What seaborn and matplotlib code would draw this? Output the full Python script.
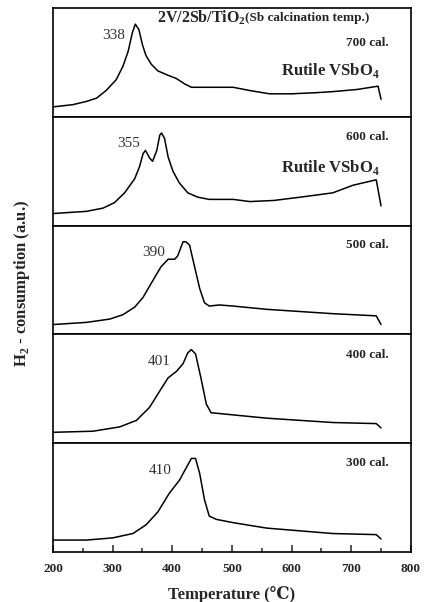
import matplotlib
matplotlib.use("Agg")
import matplotlib.pyplot as plt
from matplotlib.ticker import MultipleLocator
import seaborn as sns

### TPR traces (temperature in C, signal in a.u.)
temp_700 = [200, 233, 256, 273, 289, 306, 317, 326, 333, 338, 344, 350, 356, 365, 376, 393, 407, 421, 432, 457,
            502, 530, 563, 600, 640, 669, 710, 745, 750]
h2_700 = [0.09, 0.11, 0.14, 0.17, 0.24, 0.34, 0.46, 0.60, 0.77, 0.85, 0.80, 0.66, 0.56, 0.48, 0.42, 0.38, 0.35, 0.30, 0.27, 0.27,
          0.27, 0.24, 0.21, 0.21, 0.22, 0.23, 0.25, 0.28, 0.16]

temp_600 = [200, 256, 284, 303, 320, 337, 345, 351, 355, 362, 367, 374, 379, 382, 387, 393, 401, 412, 426, 443,
            462, 502, 530, 570, 614, 669, 703, 742, 750]
h2_600 = [0.11, 0.13, 0.16, 0.21, 0.30, 0.43, 0.54, 0.66, 0.69, 0.62, 0.59, 0.69, 0.83, 0.85, 0.80, 0.63, 0.50, 0.39, 0.30, 0.26,
          0.24, 0.24, 0.22, 0.23, 0.26, 0.30, 0.37, 0.42, 0.18]

temp_500 = [200, 256, 295, 317, 337, 351, 368, 381, 393, 404, 409, 418, 423, 429, 437, 446, 454, 462, 479, 502,
            558, 669, 742, 750]
h2_500 = [0.09, 0.11, 0.14, 0.18, 0.25, 0.34, 0.50, 0.62, 0.69, 0.69, 0.72, 0.85, 0.85, 0.82, 0.63, 0.42, 0.29, 0.26, 0.27, 0.26,
          0.23, 0.19, 0.17, 0.09]

temp_400 = [200, 267, 312, 340, 362, 379, 393, 407, 418, 426, 432, 439, 448, 457, 465, 502, 558, 669, 742, 750]
h2_400 = [0.10, 0.11, 0.15, 0.21, 0.33, 0.48, 0.60, 0.66, 0.73, 0.83, 0.86, 0.82, 0.60, 0.36, 0.28, 0.26, 0.23, 0.19, 0.18, 0.14]

temp_300 = [200, 256, 300, 334, 356, 376, 395, 412, 423, 432, 439, 446, 454, 462, 474, 502, 558, 669, 742, 750]
h2_300 = [0.11, 0.11, 0.13, 0.17, 0.25, 0.37, 0.54, 0.66, 0.77, 0.86, 0.86, 0.72, 0.48, 0.33, 0.30, 0.27, 0.22, 0.17, 0.16, 0.12]

cal_labels = ["700 cal.", "600 cal.", "500 cal.", "400 cal.", "300 cal."]
peak_labels = ["338", "355", "390", "401", "410"]
peak_label_x = [301, 326, 368, 378, 379]

sns.set_style("ticks")
plt.rcParams['font.family'] = ['Liberation Serif', 'DejaVu Serif']
plt.rcParams['mathtext.fontset'] = 'custom'
plt.rcParams['mathtext.rm'] = 'Liberation Serif'
plt.rcParams['mathtext.bf'] = 'Liberation Serif:bold'

traces = [(temp_700, h2_700), (temp_600, h2_600), (temp_500, h2_500),
          (temp_400, h2_400), (temp_300, h2_300)]
cal_y = [0.68, 0.81, 0.82, 0.81, 0.82]

fig, axes = plt.subplots(5, 1, figsize=(4.24, 6.02), dpi=100, sharex=True)
fig.subplots_adjust(left=0.125, right=0.969, top=0.987, bottom=0.083, hspace=0)

for i, ax in enumerate(axes):
    t, h = traces[i]
    sns.lineplot(x=t, y=h, ax=ax, color='black', linewidth=1.1)
    ax.set_ylim(0, 1)
    ax.set_xlim(200, 800)
    ax.set_yticks([])
    for s in ax.spines.values():
        s.set_linewidth(1.2)
        s.set_color('black')
    ax.tick_params(axis='x', which='both', direction='in', bottom=(i == 4),
                   labelbottom=(i == 4))
    ax.text(763, cal_y[i], cal_labels[i], ha='right', va='center',
            fontsize=9.5, fontweight='bold')
    ax.text(peak_label_x[i], 0.75, peak_labels[i], ha='center', va='center',
            fontsize=11, color='#333333')

### extra annotations in the two top panels
axes[0].text(374, 0.91, r"2V/2Sb/TiO$_\mathbf{2}$", ha='left', va='center',
             fontsize=11.5, fontweight='bold')
axes[0].text(522, 0.905, "(Sb calcination temp.)", ha='left', va='center',
             fontsize=9.5, fontweight='bold')
axes[0].text(665, 0.42, r"Rutile VSbO$_\mathbf{4}$", ha='center', va='center',
             fontsize=12, fontweight='bold')
axes[1].text(665, 0.53, r"Rutile VSbO$_\mathbf{4}$", ha='center', va='center',
             fontsize=12, fontweight='bold')

bottom = axes[4]
bottom.xaxis.set_major_locator(MultipleLocator(100))
bottom.xaxis.set_minor_locator(MultipleLocator(50))
bottom.tick_params(axis='x', which='major', length=5, width=1.1, labelsize=9.5, pad=8)
bottom.tick_params(axis='x', which='minor', length=3, width=1.1)
for lab in bottom.get_xticklabels():
    lab.set_fontweight('bold')
bottom.set_xlabel("Temperature (\u2103)", fontsize=12, fontweight='bold', labelpad=8)

fig.text(0.052, 0.53, r"H$_\mathbf{2}$ - consumption (a.u.)", rotation=90,
         ha='center', va='center', fontsize=12, fontweight='bold')

fig.savefig("out.png", dpi=100)
